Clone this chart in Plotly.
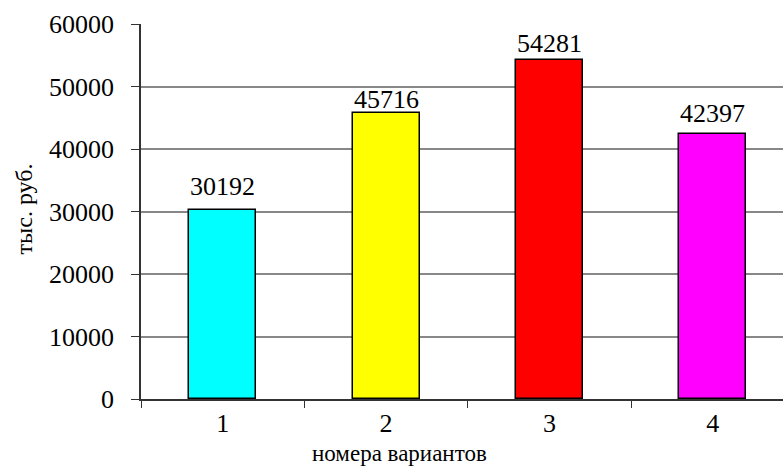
import plotly.graph_objects as go

categories = ["1", "2", "3", "4"]
values = [30192, 45716, 54281, 42397]
colors = ["#00FFFF", "#FFFF00", "#FF0000", "#FF00FF"]
y_ticks = [0, 10000, 20000, 30000, 40000, 50000, 60000]
y_tick_labels = ["0", "10000", "20000", "30000", "40000", "50000", "60000"]
label_shift = [7, -3, 0, 4]  # style: pixel offset of each value label

FONT = "Liberation Serif, Times New Roman, serif"

fig = go.Figure()
fig.add_trace(go.Bar(
    x=categories, y=values, width=0.41,
    marker=dict(color=colors, line=dict(color="#000000", width=1.5)),
    hoverinfo="skip",
))

for i, v in enumerate(values):
    fig.add_annotation(x=i, y=v, text=str(v), showarrow=False,
                       yanchor="bottom", yshift=label_shift[i],
                       font=dict(family=FONT, size=26, color="#000"))

fig.add_annotation(xref="paper", yref="paper", x=0.403, y=-0.146,
                   text="номера вариантов", showarrow=False,
                   xanchor="center", yanchor="middle",
                   font=dict(family=FONT, size=23, color="#000"))

fig.add_annotation(xref="paper", yref="paper", x=-0.183, y=0.507,
                   text="тыс. руб.", showarrow=False, textangle=-90,
                   xanchor="center", yanchor="middle",
                   font=dict(family=FONT, size=24, color="#000"))

fig.update_layout(
    width=783, height=467,
    margin=dict(l=141, r=0, t=24, b=68),
    paper_bgcolor="white", plot_bgcolor="white",
    showlegend=False,
    font=dict(family=FONT, color="#000"),
    bargap=0,
)
fig.update_xaxes(
    type="category", range=[-0.5, 3.43],
    tickson="boundaries", ticks="outside", ticklen=7, tickcolor="#333",
    showgrid=False, showline=True, linecolor="#333", linewidth=1.5,
    tickfont=dict(family=FONT, size=26, color="#000"),
)
fig.update_yaxes(
    range=[0, 60000], tickvals=y_ticks, ticktext=y_tick_labels,
    ticks="outside", ticklen=8, tickcolor="#333",
    showgrid=True, gridcolor="#888888", gridwidth=1.5,
    showline=True, linecolor="#333", linewidth=1.5,
    zeroline=False,
    ticklabelstandoff=12,
    tickfont=dict(family=FONT, size=26, color="#000"),
)

fig.write_html("out.html")
